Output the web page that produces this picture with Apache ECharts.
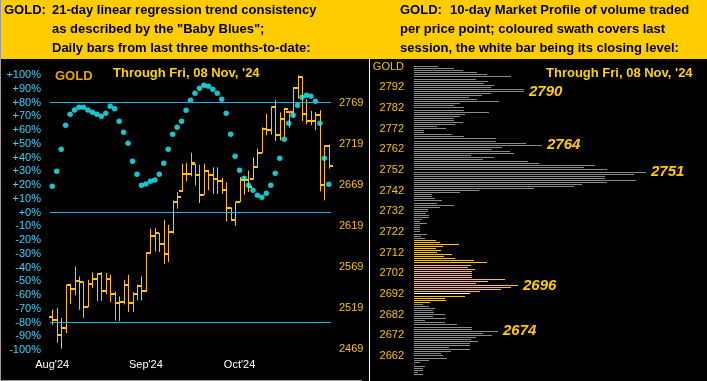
<!DOCTYPE html>
<html><head><meta charset="utf-8">
<script src="https://cdn.jsdelivr.net/npm/echarts@6/dist/echarts.min.js"></script>
<style>html,body{margin:0;padding:0;background:#000;overflow:hidden}#c{width:707px;height:381px}</style>
</head><body><div id="c"></div>
<script>
// ---------- LEFT PANEL DATA ----------
const dates = ['2024-08-13','2024-08-14','2024-08-15','2024-08-16','2024-08-19','2024-08-20','2024-08-21','2024-08-22','2024-08-23','2024-08-26',
 '2024-08-27','2024-08-28','2024-08-29','2024-08-30','2024-09-03','2024-09-04','2024-09-05','2024-09-06','2024-09-09','2024-09-10',
 '2024-09-11','2024-09-12','2024-09-13','2024-09-16','2024-09-17','2024-09-18','2024-09-19','2024-09-20','2024-09-23','2024-09-24',
 '2024-09-25','2024-09-26','2024-09-27','2024-09-30','2024-10-01','2024-10-02','2024-10-03','2024-10-04','2024-10-07','2024-10-08',
 '2024-10-09','2024-10-10','2024-10-11','2024-10-14','2024-10-15','2024-10-16','2024-10-17','2024-10-18','2024-10-21','2024-10-22',
 '2024-10-23','2024-10-24','2024-10-25','2024-10-28','2024-10-29','2024-10-30','2024-10-31','2024-11-01','2024-11-04','2024-11-05',
 '2024-11-06','2024-11-07','2024-11-08'];
const xTickLabels = ["Aug'24", "Sep'24", "Oct'24"];
const xTickIndex = [0, 21, 42];

const openPx = [2508.0,2504.1,2485.9,2494.8,2546.7,2542.2,2551.5,2550.7,2520.3,2547.9,
 2554.4,2560.0,2539.8,2554.8,2536.1,2525.2,2526.4,2546.7,2525.2,2536.1,
 2545.8,2539.4,2586.0,2606.7,2610.3,2596.9,2584.8,2611.5,2648.0,2661.0,
 2682.5,2682.5,2694.0,2681.2,2656.9,2686.1,2681.2,2676.4,2673.5,2663.0,
 2640.7,2625.7,2648.0,2674.3,2674.3,2676.0,2690.6,2708.0,2737.2,2736.0,
 2763.5,2729.1,2749.3,2758.0,2757.4,2787.0,2800.5,2755.4,2746.5,2746.5,
 2753.4,2668.3,2715.7];
const highPx = [2517.1,2519.5,2507.4,2547.5,2548.7,2569.8,2557.6,2551.5,2553.5,2562.5,
 2561.7,2562.9,2561.7,2559.6,2539.4,2533.3,2553.5,2559.6,2538.5,2547.5,
 2557.6,2587.2,2615.6,2616.4,2610.3,2626.5,2620.4,2650.0,2660.2,2694.6,
 2695.4,2708.0,2694.2,2693.4,2694.6,2687.3,2690.2,2690.2,2677.2,2671.9,
 2641.5,2648.8,2678.4,2679.2,2686.1,2702.3,2712.9,2738.8,2755.4,2764.3,
 2772.4,2757.0,2762.3,2758.3,2787.9,2802.0,2800.8,2772.9,2758.7,2757.5,
 2759.5,2717.0,2717.8];
const lowPx = [2498.8,2476.9,2469.7,2488.7,2524.0,2534.5,2517.1,2507.4,2520.3,2543.8,
 2527.6,2528.0,2536.1,2526.4,2504.1,2503.3,2523.6,2514.2,2514.2,2528.4,
 2528.4,2538.5,2585.2,2588.0,2587.2,2572.6,2575.0,2609.5,2639.9,2660.2,
 2673.1,2679.2,2668.3,2646.8,2656.9,2662.2,2658.1,2657.7,2658.1,2624.5,
 2624.9,2618.8,2648.0,2656.9,2660.2,2675.2,2689.3,2707.6,2729.1,2729.9,
 2722.2,2723.0,2727.0,2738.4,2751.4,2773.7,2746.5,2742.5,2741.3,2735.2,
 2661.0,2650.0,2688.6];
const closePx = [2504.1,2485.9,2494.8,2546.7,2542.2,2551.5,2550.7,2520.3,2547.9,2554.4,
 2560.0,2539.8,2554.8,2536.1,2525.2,2526.4,2546.7,2525.2,2536.1,2545.8,
 2539.4,2586.0,2606.7,2610.3,2596.9,2584.8,2611.5,2648.0,2654.1,2682.5,
 2682.5,2695.4,2681.2,2656.9,2686.1,2681.2,2676.4,2673.5,2663.0,2640.7,
 2625.7,2648.0,2674.3,2674.3,2666.2,2690.6,2708.0,2737.2,2736.0,2763.5,
 2729.1,2749.3,2761.5,2757.4,2787.0,2800.0,2755.4,2746.5,2746.5,2753.4,
 2668.3,2715.7,2691.8];
const babyBlues = [19.1,30.0,46.0,63.5,71.5,74.6,76.6,76.6,74.6,72.9,
 71.5,70.0,72.2,77.3,75.4,66.4,58.4,50.4,37.3,27.9,
 19.9,20.8,22.8,23.7,27.9,35.9,46.0,56.9,62.0,66.4,
 74.4,81.7,86.8,90.4,92.6,91.9,89.7,86.8,82.4,72.2,
 56.9,41.0,30.8,25.0,19.9,16.2,12.6,11.1,14.0,19.9,
 28.6,39.5,53.3,65.0,70.8,78.0,83.9,85.3,84.6,80.9,
 65.0,39.5,20.6];
const refLevels = [80, 0, -80];
const priceTicks = [2469, 2519, 2569, 2619, 2669, 2719, 2769];

// ---------- RIGHT PANEL DATA ----------
const profilePrices = [2802,2801,2800,2799,2798,2797,2796,2795,2794,2793,2792,2791,2790,2789,2788,2787,2786,2785,2784,2783,
 2782,2781,2780,2779,2778,2777,2776,2775,2774,2773,2772,2771,2770,2769,2768,2767,2766,2765,2764,2763,
 2762,2761,2760,2759,2758,2757,2756,2755,2754,2753,2752,2751,2750,2749,2748,2747,2746,2745,2744,2743,
 2742,2741,2740,2739,2738,2737,2736,2735,2734,2733,2732,2731,2730,2729,2728,2727,2726,2725,2724,2723,
 2722,2721,2720,2719,2718,2717,2716,2715,2714,2713,2712,2711,2710,2709,2708,2707,2706,2705,2704,2703,
 2702,2701,2700,2699,2698,2697,2696,2695,2694,2693,2692,2691,2690,2689,2688,2687,2686,2685,2684,2683,
 2682,2681,2680,2679,2678,2677,2676,2675,2674,2673,2672,2671,2670,2669,2668,2667,2666,2665,2664,2663,
 2662,2661,2660,2659,2658,2657,2656,2655,2654,2653];
const profileVolumes = [24,40,49,63,73,97,62,74,70,80,77,110,110,77,68,55,63,85,46,40,
 50,50,75,51,46,40,40,49,41,23,32,10,10,38,50,82,82,112,128,88,
 78,96,100,57,80,69,114,125,181,170,193,232,220,191,191,222,193,168,160,120,
 65,46,18,18,21,28,23,40,26,14,14,12,15,15,8,6,13,6,6,6,
 6,13,7,11,22,26,45,29,22,27,23,38,30,41,60,73,57,54,61,58,
 58,58,58,91,74,62,104,97,87,66,56,51,31,32,16,9,15,21,19,20,
 31,19,32,11,31,43,58,58,84,69,78,62,57,64,56,56,35,56,37,27,
 29,33,15,6,1,11,9,9,4,9];
const sessionLow = 2688, sessionHigh = 2718, sessionClose = 2692;
const peakLabels = [2790, 2764, 2751, 2696, 2674];
const profileTickStep = 10, profileTickBase = 2662, profileTopLabel = 2802;

// ---------- CHART ----------
const FONT = '"Liberation Sans", Arial, sans-serif';
const BAR_COLOR = '#FFC20A';
const chart = echarts.init(document.getElementById('c'), null, {renderer: 'canvas'});

const ohlc = dates.map((d, i) => [i, openPx[i], closePx[i], lowPx[i], highPx[i]]);

function renderOHLC(params, api) {
  const i = api.value(0);
  const x = Math.round(api.coord([i, 0])[0]) + 0.5;
  const yo = api.coord([i, api.value(1)])[1];
  const yc = api.coord([i, api.value(2)])[1];
  const yl = api.coord([i, api.value(3)])[1];
  const yh = api.coord([i, api.value(4)])[1];
  const st = {stroke: BAR_COLOR, lineWidth: 1};
  return {type: 'group', children: [
    {type: 'line', shape: {x1: x, y1: yh, x2: x, y2: yl}, style: st},
    {type: 'rect', shape: {x: x - 3.5, y: Math.round(yo) - 1, width: 3, height: 2}, style: {fill: BAR_COLOR}},
    {type: 'rect', shape: {x: x + 0.5, y: Math.round(yc) - 1, width: 3, height: 2}, style: {fill: BAR_COLOR}}
  ]};
}

const profileData = profileVolumes.map((v, i) => [v, String(profilePrices[i]), profilePrices[i]]);

function renderProfile(params, api) {
  const cat = api.value(1);
  const p = api.value(2);
  const v = api.value(0);
  const start = api.coord([0, cat]);
  const end = api.coord([v, cat]);
  const yy = Math.floor(start[1]);
  let color = '#8A8A8A';
  if (p >= sessionLow && p <= sessionHigh) color = '#FFC400';
  if (p === sessionClose) color = '#FFFFFF';
  const children = [
    {type: 'rect', shape: {x: Math.round(start[0]), y: yy, width: Math.max(1, Math.round(end[0] - start[0])), height: 1}, style: {fill: color}}
  ];
  if (peakLabels.indexOf(p) >= 0) {
    children.push({type: 'text', x: end[0] + 5, y: start[1],
      style: {text: String(p), fill: '#FFCC00', font: 'italic bold 15px ' + FONT, verticalAlign: 'middle', align: 'left'}});
  }
  return {type: 'group', children: children};
}

function hdr(x, y, text) {
  return {type: 'text', x: x, y: y, style: {text: text, fill: '#000', font: 'bold 13px ' + FONT, verticalAlign: 'middle', align: 'left'}};
}

const option = {
  backgroundColor: '#000',
  animation: false,
  grid: [
    {left: 50, top: 75, width: 281, height: 275},
    {left: 414, top: 65.6, width: 293, height: 310}
  ],
  xAxis: [
    {type: 'category', gridIndex: 0, data: dates, boundaryGap: true,
     axisLine: {show: false}, axisTick: {show: false}, splitLine: {show: false},
     axisLabel: {interval: (i) => xTickIndex.indexOf(i) >= 0,
       formatter: (v, i) => { const k = xTickIndex.indexOf(i); return k >= 0 ? xTickLabels[k] : ''; },
       color: '#FFFFFF', fontSize: 11, fontFamily: FONT, margin: 9}},
    {type: 'value', gridIndex: 1, min: 0, max: 293, show: false}
  ],
  yAxis: [
    {type: 'value', gridIndex: 0, min: -100, max: 100, interval: 10, position: 'left',
     axisLine: {show: false}, axisTick: {show: false}, splitLine: {show: false},
     axisLabel: {color: '#33D6FF', fontSize: 11, fontFamily: FONT, margin: 9,
       formatter: (v) => (v >= 0 ? '+' : '') + v + '%'}},
    {type: 'value', gridIndex: 0, min: 2468.2, max: 2802.4, position: 'right',
     axisLine: {show: false}, axisTick: {show: false}, splitLine: {show: false},
     axisLabel: {customValues: priceTicks, color: '#F7C300', fontSize: 11, fontFamily: FONT, margin: 8,
       formatter: (v) => String(Math.round(v))}},
    {type: 'category', gridIndex: 1, data: profilePrices.map(String), inverse: true, boundaryGap: true,
     axisLine: {show: false}, axisTick: {show: false}, splitLine: {show: false},
     axisLabel: {interval: (i, v) => Number(v) === profileTopLabel || (Number(v) - profileTickBase) % profileTickStep === 0,
       formatter: (v) => Number(v) === profileTopLabel ? 'GOLD' : v,
       color: '#F7C300', fontSize: 11, fontFamily: FONT, margin: 10}}
  ],
  series: [
    {type: 'custom', xAxisIndex: 0, yAxisIndex: 1, renderItem: renderOHLC, data: ohlc,
     encode: {x: 0, y: [1, 2, 3, 4]}, z: 3, silent: true},
    {type: 'scatter', xAxisIndex: 0, yAxisIndex: 0, data: babyBlues, symbol: 'circle', symbolSize: 5.5,
     itemStyle: {color: '#1FF2FF'}, z: 4, silent: true,
     markLine: {silent: true, symbol: ['none', 'none'], label: {show: false},
       lineStyle: {color: '#19B5E6', width: 1, type: 'solid'},
       data: refLevels.map(v => ({yAxis: v}))}},
    {type: 'custom', xAxisIndex: 1, yAxisIndex: 2, renderItem: renderProfile, data: profileData,
     encode: {x: 0, y: 1}, silent: true, z: 2, clip: false}
  ],
  graphic: [
    {type: 'rect', shape: {x: 0, y: 0, width: 707, height: 59}, style: {fill: '#FFCC00'}, z: 0},
    hdr(4, 10, 'GOLD:'),
    hdr(52, 10, '21-day linear regression trend consistency'),
    hdr(52, 29.5, 'as described by the "Baby Blues";'),
    hdr(52, 48.5, 'Daily bars from last three months-to-date:'),
    hdr(400, 10, 'GOLD:'),
    hdr(450, 10, '10-day Market Profile of volume traded'),
    hdr(400, 29.5, 'per price point; coloured swath covers last'),
    hdr(400, 48.5, 'session, the white bar being its closing level:'),
    {type: 'text', x: 55, y: 76, style: {text: 'GOLD', fill: '#E6A800', font: 'bold 13px ' + FONT, verticalAlign: 'middle'}},
    {type: 'text', x: 113, y: 73, style: {text: "Through Fri, 08 Nov, '24", fill: '#FFD200', font: 'bold 13px ' + FONT, verticalAlign: 'middle'}},
    {type: 'text', x: 546, y: 73, style: {text: "Through Fri, 08 Nov, '24", fill: '#FFD200', font: 'bold 13px ' + FONT, verticalAlign: 'middle'}},
    {type: 'line', shape: {x1: 369.5, y1: 59, x2: 369.5, y2: 381}, style: {stroke: '#FFFFFF', lineWidth: 1}},
    {type: 'line', shape: {x1: 0.5, y1: 0, x2: 0.5, y2: 381}, style: {stroke: '#9A9A9A', lineWidth: 1}},
    {type: 'line', shape: {x1: 0, y1: 380.5, x2: 362, y2: 380.5}, style: {stroke: '#9A9A9A', lineWidth: 1}}
  ]
};
chart.setOption(option);
</script>
</body></html>
